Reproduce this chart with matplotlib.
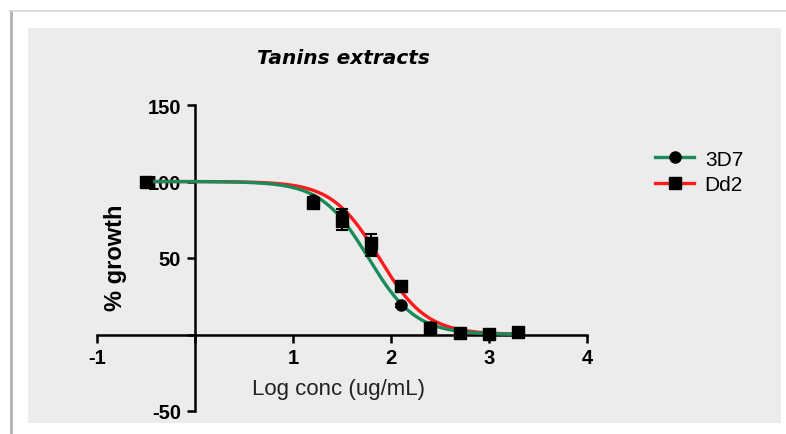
import numpy as np
import matplotlib
matplotlib.use("Agg")
import matplotlib.pyplot as plt
from matplotlib.patches import Rectangle
from matplotlib.lines import Line2D

# ---- data ----
log_conc = [-0.5, 1.2, 1.5, 1.8, 2.1, 2.4, 2.7, 3.0, 3.3]
growth_3d7 = [100, 88, 78, 55, 19, 5, 1, 0.5, 1.5]
err_3d7 = [0, 2, 4, 4, 1, 2, 1, 1, 1]
growth_dd2 = [100, 86, 74, 60, 32, 4.5, 1, 0.5, 1.5]
err_dd2 = [0, 3, 6, 6, 2, 3, 1, 1, 1]

# 4PL fit parameters (top, bottom, logIC50, hill)
fit_3d7 = (100, 0, 1.77, 1.8)
fit_dd2 = (100, 0, 1.88, 1.8)

title = "Tanins extracts"
xlabel = "Log conc (ug/mL)"
ylabel = "% growth"
xticks = [-1, 0, 1, 2, 3, 4]
xtick_labels = ["-1", "", "1", "2", "3", "4"]
yticks = [-50, 0, 50, 100, 150]
ytick_labels = ["-50", "", "50", "100", "150"]

green = "#1a8a5a"
red = "#ff1a1a"

W, H = 786, 435
fig = plt.figure(figsize=(W / 100, H / 100), dpi=100)
fig.patch.set_facecolor("white")

# outer frame lines and gray panel
fig.add_artist(Line2D([10.5 / W, 10.5 / W], [0, 1 - 12 / H], transform=fig.transFigure,
                      color="#b0b0b0", lw=2))
fig.add_artist(Line2D([10 / W, 1], [1 - 12 / H, 1 - 12 / H], transform=fig.transFigure,
                      color="#d8d8d8", lw=1.2))
fig.add_artist(Rectangle((28 / W, 1 - 424 / H), (781 - 28) / W, (424 - 29) / H,
                         transform=fig.transFigure, facecolor="#ececec", edgecolor="none",
                         zorder=-1))

ax = fig.add_axes([97 / W, 1 - 412 / H, 490 / W, 306 / H])
ax.set_facecolor("none")
ax.set_xlim(-1, 4)
ax.set_ylim(-50, 150)

for s in ["top", "right"]:
    ax.spines[s].set_visible(False)
ax.spines["left"].set_position(("data", 0))
ax.spines["bottom"].set_position(("data", 0))
ax.spines["left"].set_linewidth(1.8)
ax.spines["bottom"].set_linewidth(1.8)

ax.set_xticks(xticks)
ax.set_xticklabels(xtick_labels, fontfamily="Liberation Sans", fontweight="bold", fontsize=14.5)
ax.set_yticks(yticks)
ax.set_yticklabels(ytick_labels, fontfamily="Liberation Sans", fontweight="bold", fontsize=14.5)
ax.tick_params(axis="both", direction="out", length=6, width=1.8)
ax.tick_params(axis="x", pad=4)
ax.tick_params(axis="y", pad=4)


def fourpl(x, p):
    top, bottom, logic50, hill = p
    return bottom + (top - bottom) / (1 + 10 ** (hill * (x - logic50)))


xs = np.linspace(-0.5, 3.3, 300)
ax.plot(xs, fourpl(xs, fit_dd2), color=red, lw=2.4, zorder=3)
ax.plot(xs, fourpl(xs, fit_3d7), color=green, lw=2.4, zorder=4)

ax.errorbar(log_conc, growth_dd2, yerr=err_dd2, fmt="s", color="black", ms=8,
            capsize=4, elinewidth=1.5, capthick=1.5, zorder=5)
ax.errorbar(log_conc, growth_3d7, yerr=err_3d7, fmt="o", color="black", ms=8,
            capsize=4, elinewidth=1.5, capthick=1.5, zorder=6)

fig.text(343 / W, 1 - 58 / H, title, ha="center", va="center", fontsize=14.5,
         fontweight="bold", fontstyle="italic", fontfamily="DejaVu Sans")
fig.text(339 / W, 1 - 390 / H, xlabel, ha="center", va="center", fontsize=16,
         fontfamily="Liberation Sans", color="#222222")
fig.text(116 / W, 1 - 258 / H, ylabel, ha="center", va="center", fontsize=17,
         fontweight="bold", rotation=90, fontfamily="Liberation Sans")

# legend
handles = [
    Line2D([], [], color=green, lw=2.4, marker="o", mfc="black", mec="black", ms=8),
    Line2D([], [], color=red, lw=2.4, marker="s", mfc="black", mec="black", ms=8),
]
fig.legend(handles, ["3D7", "Dd2"], loc="upper left", bbox_to_anchor=(636 / W, 1 - 132 / H),
           frameon=False, prop={"family": "Liberation Sans", "size": 15},
           handlelength=1.9, labelspacing=0.3, handletextpad=0.5)

fig.savefig("out.png", dpi=100, facecolor="white")
